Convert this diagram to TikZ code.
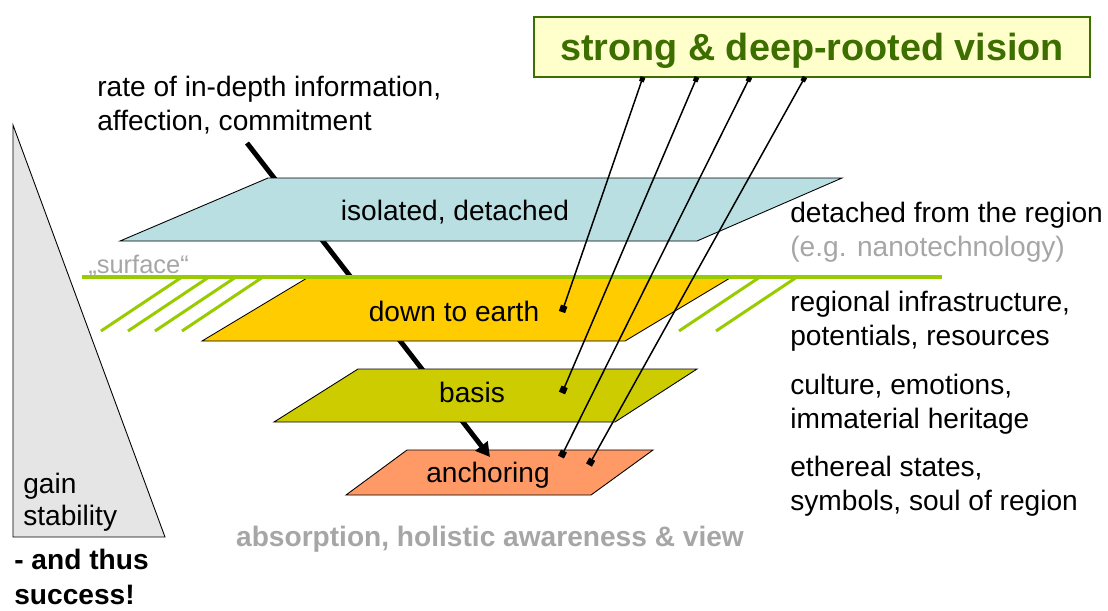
\documentclass[tikz,border=0pt]{standalone}
\usepackage{fontspec}
\setmainfont{Liberation Sans}
\usepackage{tkz-euclide}
\usepackage{tikz}
\usetikzlibrary{arrows.meta}
\usetikzlibrary{shapes,positioning}
\colorlet{background}{white}
\colorlet{penColor}{black}
\definecolor{fillTop}{RGB}{185,223,227}
\definecolor{fillEarth}{RGB}{255,204,0}
\definecolor{fillBasis}{RGB}{204,204,0}
\definecolor{fillAnchor}{RGB}{255,153,102}
\definecolor{groundColor}{RGB}{153,204,0}
\definecolor{visionColor}{RGB}{60,110,0}
\definecolor{visionFill}{RGB}{255,255,204}
\definecolor{greyText}{RGB}{166,166,166}
\colorlet{wedgeFill}{black!10}
\tikzset{
  plane/.style={draw=penColor,line width=.5pt},
  planelabel/.style={inner sep=0pt,font=\fontsize{16}{19}\selectfont},
  sidetext/.style={anchor=base west,inner sep=0pt,align=left,
    font=\fontsize{16}{19.3}\selectfont},
  link/.style={penColor,line width=.85pt,
    {Square[length=2.8pt,width=2.8pt]}-{Square[length=3.8pt,width=3.8pt]}},
  hatch/.style={groundColor,line width=1.7pt}
}

\begin{document}
\begin{tikzpicture}[x=0.02cm,y=-0.02cm]
  \useasboundingbox (0,0) rectangle (1108,610);

  % wedge on the left
  \draw[penColor,fill=wedgeFill,line width=.5pt] (13,125)--(13,537)--(165,537)--cycle;
  \node[sidetext,font=\fontsize{16}{17.9}\selectfont] (gain) at (23,525) {gain\\stability};
  \node[sidetext,font=\fontsize{16}{19.6}\selectfont\bfseries] (thus) at (14,604) {- and thus\\success!};

  \tkzDefPoint(120,241){A1}
  \tkzDefPoint(697,241){A2}
  \tkzDefPoint(842,178){A3}
  \tkzDefPoint(268,178){A4}

  \tkzDefPoint(202,341){B1}
  \tkzDefPoint(625,341){B2}
  \tkzDefPoint(730,278){B3}
  \tkzDefPoint(307,278){B4}

  \tkzDefPoint(274,422){C1}
  \tkzDefPoint(615,422){C2}
  \tkzDefPoint(697,369){C3}
  \tkzDefPoint(358,369){C4}

  \tkzDefPoint(346,495){D1}
  \tkzDefPoint(591,495){D2}
  \tkzDefPoint(653,450){D3}
  \tkzDefPoint(407,450){D4}

  \draw[plane,fill=fillAnchor] (D1)--(D2)--(D3)--(D4)--cycle;

  % depth arrow behind the upper planes
  \coordinate (depthStart) at (247,143);
  \coordinate (depthEnd) at (490,457);
  \draw[penColor,line width=2.8pt,-{Triangle[length=8pt,width=8.5pt]}] (depthStart)--(depthEnd);

  \draw[plane,fill=fillBasis] (C1)--(C2)--(C3)--(C4)--cycle;
  \draw[plane,fill=fillEarth] (B1)--(B2)--(B3)--(B4)--cycle;
  \draw[plane,fill=fillTop] (A1)--(A2)--(A3)--(A4)--cycle;

  % the surface
  \coordinate (groundL) at (82,277);
  \coordinate (groundR) at (942,277);
  \draw[groundColor,line width=2.2pt] (groundL)--(groundR);
  \foreach \x in {182,209,236,263,760,797}
    \draw[hatch] (\x,277)--++(-81,54);
  \node[anchor=base west,inner sep=0pt,text=greyText,font=\fontsize{14.5}{17}\selectfont] (surface) at (88,273) {„surface“};

  \node[planelabel] (isolated) at (455,212) {isolated, detached};
  \node[planelabel] (earth) at (454,311) {down to earth};
  \node[planelabel] (basis) at (472,392) {basis};
  \node[planelabel] (anchoring) at (488,475) {anchoring};

  % vision box and its roots
  \node[draw=visionColor,fill=visionFill,line width=1.1pt,minimum width=11.12cm,
    minimum height=1.2cm,text depth=0pt,text=visionColor,
    font=\fontsize{21.5}{24}\selectfont\bfseries] (vision) at (812,47) {strong \& deep-rooted vision};
  \coordinate (v1) at (643,77);
  \coordinate (v2) at (697,77);
  \coordinate (v3) at (750,77);
  \coordinate (v4) at (805,77);
  \coordinate (r1) at (562,312);
  \coordinate (r2) at (562,393);
  \coordinate (r3) at (561,457);
  \coordinate (r4) at (589,465);
  \draw[link] (v1)--(r1);
  \draw[link] (v2)--(r2);
  \draw[link] (v3)--(r3);
  \draw[link] (v4)--(r4);

  \node[sidetext] (rate) at (97,130) {rate of in-depth information,\\affection, commitment};
  \node[sidetext] (region) at (790,256) {detached from the region\\\textcolor{greyText}{(e.g. nanotechnology)}};
  \node[sidetext] (infra) at (790,345) {regional infrastructure,\\potentials, resources};
  \node[sidetext] (culture) at (790,428) {culture, emotions,\\immaterial heritage};
  \node[sidetext] (soul) at (790,510) {ethereal states,\\symbols, soul of region};
  \node[anchor=base,inner sep=0pt,text=greyText,font=\fontsize{16}{19}\selectfont\bfseries] (absorb) at (490,546) {absorption, holistic awareness \& view};
\end{tikzpicture}
\end{document}
